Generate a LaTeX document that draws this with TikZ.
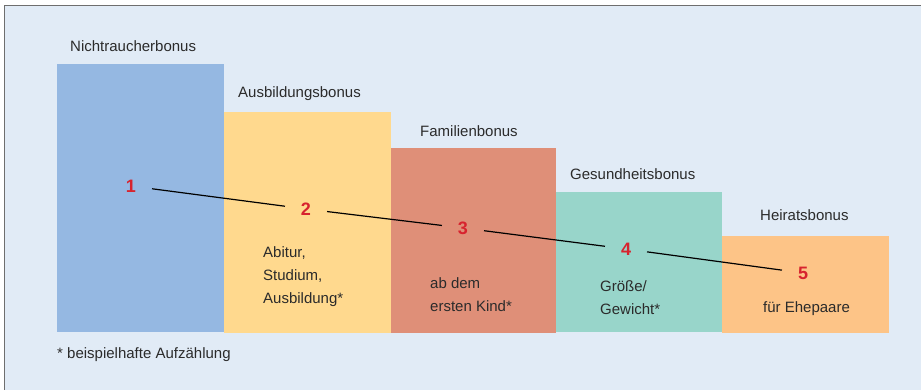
\documentclass[tikz,border=0pt]{standalone}
\usepackage{fontspec}
\setmainfont{Liberation Sans}

\definecolor{bgblue}{HTML}{E1EBF6}
\definecolor{framegray}{HTML}{6E6E6E}
\definecolor{barblue}{HTML}{95B8E2}
\definecolor{baryellow}{HTML}{FFD98E}
\definecolor{barred}{HTML}{DF8F78}
\definecolor{barteal}{HTML}{98D5CA}
\definecolor{barorange}{HTML}{FDC487}
\definecolor{numred}{HTML}{D7232E}
\definecolor{textgray}{HTML}{2B2B2B}

\begin{document}
\begin{tikzpicture}[x=1pt, y=-1pt,
    head/.style={anchor=west, inner sep=0pt, text=textgray,
        font=\fontsize{15}{18}\selectfont},
    body/.style={anchor=north west, inner sep=0pt, align=left, text=textgray,
        font=\fontsize{15}{23}\selectfont},
    num/.style={circle, minimum size=42pt, inner sep=0pt, text=numred,
        font=\fontsize{18}{20}\selectfont\bfseries},
    link/.style={line width=1.2pt, black, -}
]
    \useasboundingbox (0,0) rectangle (921,390);
    \fill[bgblue] (4,6) rectangle (921,390);
    \draw[framegray, line width=1pt] (4,390) -- (4,6) -- (921,6);

    % bars
    \fill[barblue]   (57,64)   rectangle (224,332);
    \fill[baryellow] (224,112) rectangle (391,333);
    \fill[barred]    (391,148) rectangle (556,333);
    \fill[barteal]   (556,192) rectangle (722,332);
    \fill[barorange] (722,236) rectangle (889,333);

    % headings
    \node[head] (h1) at (70,46)  {Nichtraucherbonus};
    \node[head] (h2) at (238,94) {Ausbildungsbonus};
    \node[head] (h3) at (420,131) {Familienbonus};
    \node[head] (h4) at (570,174) {Gesundheitsbonus};
    \node[head] (h5) at (760,215) {Heiratsbonus};

    % numbers
    \node[num] (n1) at (131,186) {1};
    \node[num] (n2) at (306,209) {2};
    \node[num] (n3) at (463,228) {3};
    \node[num] (n4) at (626,249) {4};
    \node[num] (n5) at (803,273) {5};
    \draw[link] (n1) -- (n2);
    \draw[link] (n2) -- (n3);
    \draw[link] (n3) -- (n4);
    \draw[link] (n4) -- (n5);

    % details
    \node[body] (d2) at (263,246) {Abitur,\\Studium,\\Ausbildung*};
    \node[body] (d3) at (430,277) {ab dem\\ersten Kind*};
    \node[body] (d4) at (600,280) {Größe/\\Gewicht*};
    \node[body] (d5) at (763,301) {für Ehepaare};

    \node[head] (note) at (57,355) {* beispielhafte Aufzählung};
\end{tikzpicture}
\end{document}
